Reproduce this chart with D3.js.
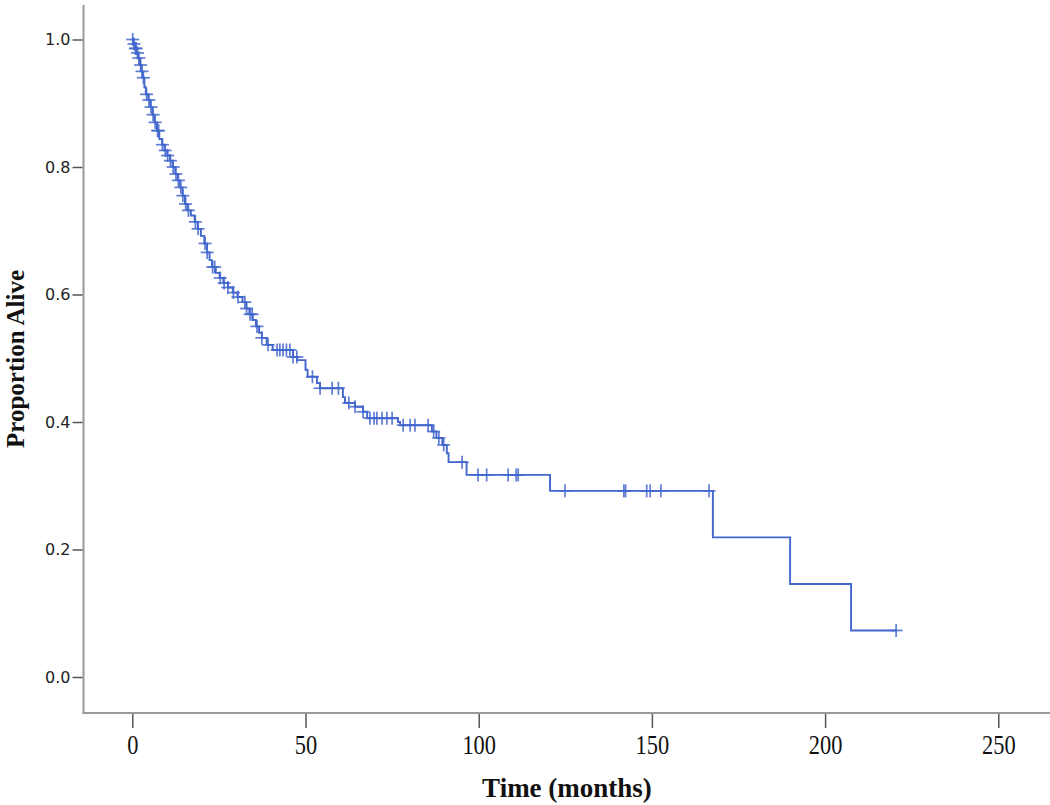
<!DOCTYPE html>
<html><head><meta charset="utf-8">
<script src="https://cdn.jsdelivr.net/npm/d3@7/dist/d3.min.js"></script>
<style>body{margin:0;background:#fff}svg{display:block}</style>
</head><body><div id="chart"></div>
<script>
// Kaplan-Meier step times (months) and survival after each drop
const stepTimes = [0.3,0.8,1.3,1.7,2.2,2.6,3.0,3.5,3.9,4.6,5.2,5.8,6.4,7.1,7.8,8.6,9.3,10.1,10.9,11.6,12.4,13.1,13.8,14.5,15.2,15.9,16.9,18.0,18.9,19.8,20.8,21.6,22.3,23.0,24.1,25.2,26.3,27.6,29.0,30.4,31.8,32.9,33.8,34.8,35.7,36.6,37.4,38.8,40.5,46.4,47.6,50.0,50.6,53.3,54.2,60.8,61.4,64.3,66.6,67.8,76.7,77.3,86.5,87.8,89.5,90.8,91.3,96.5,120.6,167.6,189.9,207.5];
const survival  = [0.993,0.986,0.979,0.971,0.960,0.950,0.940,0.925,0.914,0.905,0.894,0.882,0.870,0.857,0.844,0.835,0.826,0.818,0.810,0.800,0.789,0.779,0.768,0.755,0.742,0.732,0.724,0.714,0.703,0.692,0.680,0.666,0.654,0.643,0.634,0.626,0.618,0.611,0.603,0.596,0.588,0.578,0.569,0.560,0.550,0.540,0.532,0.521,0.513,0.502,0.497,0.482,0.471,0.461,0.453,0.439,0.430,0.424,0.416,0.406,0.400,0.395,0.385,0.375,0.364,0.351,0.337,0.317,0.292,0.219,0.146,0.073];
const endTime = 220.5;
// censored observations (months)
const censorTimes = [0.1,0.5,0.9,1.1,1.5,1.9,2.4,2.8,3.2,4.1,4.8,5.4,6.0,6.6,7.3,7.6,8.7,9.5,10.2,11.0,11.8,12.6,13.3,14.0,14.6,15.4,16.2,18.2,19.0,21.0,21.6,23.2,23.8,25.4,26.5,27.6,29.2,30.5,32.5,33.0,34.0,34.6,36.0,37.4,39.2,41.8,42.6,43.5,44.5,45.5,46.4,47.5,52.0,54.2,57.7,59.5,62.5,64.3,66.6,68.6,69.8,70.6,72.1,73.5,75.0,78.2,80.2,81.6,85.4,87.0,88.5,89.9,95.2,99.8,102.3,108.5,110.8,111.4,124.9,141.9,142.4,148.5,149.5,152.6,166.5,220.5];
const xTicks = [0,50,100,150,200,250];
const yTicks = [0.0,0.2,0.4,0.6,0.8,1.0];

const W = 1050, H = 805;
const svg = d3.select("#chart").append("svg").attr("width", W).attr("height", H);

const x = d3.scaleLinear().domain([0, 250]).range([132.3, 998.3]);
const y = d3.scaleLinear().domain([0, 1]).range([677, 39.5]);
const axisX0 = 83.5, axisY0 = 713;

// axis lines
svg.append("line").attr("x1", axisX0).attr("x2", axisX0).attr("y1", 5).attr("y2", axisY0)
  .attr("stroke", "#9a9a9a").attr("stroke-width", 2);
svg.append("line").attr("x1", axisX0 - 1).attr("x2", W).attr("y1", axisY0).attr("y2", axisY0)
  .attr("stroke", "#9a9a9a").attr("stroke-width", 2);

// y ticks
const yAxisG = svg.append("g").attr("transform", `translate(${axisX0 - 1},0)`)
  .call(d3.axisLeft(y).tickValues(yTicks).tickFormat(d3.format(".1f")).tickSize(10).tickPadding(2));
yAxisG.select(".domain").remove();
yAxisG.selectAll(".tick line").attr("stroke", "#555").attr("stroke-width", 1.5);
yAxisG.selectAll(".tick text").attr("font-family", "'DejaVu Sans', Verdana, sans-serif")
  .attr("font-size", 16).attr("fill", "#222");

// x ticks
const xAxisG = svg.append("g").attr("transform", `translate(0,${axisY0 + 1})`)
  .call(d3.axisBottom(x).tickValues(xTicks).tickFormat(d3.format("d")).tickSize(14).tickPadding(6));
xAxisG.select(".domain").remove();
xAxisG.selectAll(".tick line").attr("stroke", "#555").attr("stroke-width", 1.5);
xAxisG.selectAll(".tick text").attr("font-family", "'Liberation Serif', 'Times New Roman', serif")
  .attr("font-size", 28).attr("fill", "#111")
  .attr("transform", "scale(0.8,1)");

// axis titles
svg.append("text").attr("x", 567).attr("y", 797).attr("text-anchor", "middle")
  .attr("font-family", "'Liberation Serif', 'Times New Roman', serif").attr("font-weight", "bold")
  .attr("font-size", 27).attr("fill", "#111").text("Time (months)");
svg.append("text").attr("transform", "translate(24,359) rotate(-90)").attr("text-anchor", "middle")
  .attr("font-family", "'Liberation Serif', 'Times New Roman', serif").attr("font-weight", "bold")
  .attr("font-size", 25).attr("fill", "#111").text("Proportion Alive");

// KM curve
const pts = [[0, 1]].concat(stepTimes.map((t, i) => [t, survival[i]]));
pts.push([endTime, survival[survival.length - 1]]);
const color = "#4266cc";
svg.append("path").attr("d", d3.line().x(d => x(d[0])).y(d => y(d[1])).curve(d3.curveStepAfter)(pts))
  .attr("fill", "none").attr("stroke", color).attr("stroke-width", 1.9);

function survAt(t) {
  let s = 1;
  for (let i = 0; i < stepTimes.length; i++) { if (stepTimes[i] <= t) s = survival[i]; else break; }
  return s;
}
const arm = 6.5;
const cg = svg.append("g").attr("stroke", color).attr("stroke-width", 1.7).attr("stroke-opacity", 0.85);
censorTimes.forEach(t => {
  const cx = x(t), cy = y(survAt(t));
  cg.append("line").attr("x1", cx - arm).attr("x2", cx + arm).attr("y1", cy).attr("y2", cy);
  cg.append("line").attr("x1", cx).attr("x2", cx).attr("y1", cy - arm).attr("y2", cy + arm);
});
</script></body></html>
